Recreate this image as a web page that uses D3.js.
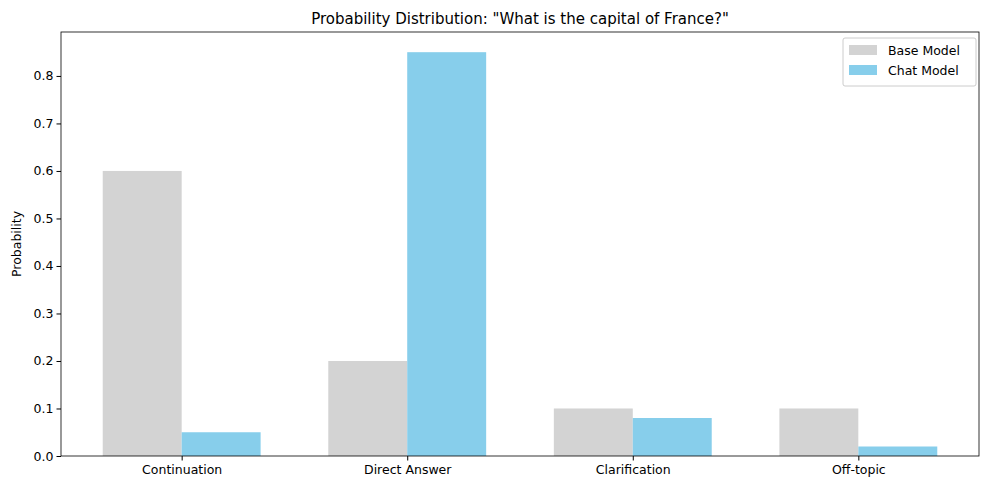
<!DOCTYPE html>
<html><head><meta charset="utf-8">
<script src="https://cdn.jsdelivr.net/npm/d3@7"></script>
<style>body{margin:0;background:#fff}text{font-family:"DejaVu Sans",sans-serif}</style>
</head><body><svg id="c" width="989" height="490"></svg>
<script>
const categories = ['Continuation', 'Direct Answer', 'Clarification', 'Off-topic']
const baseValues = [0.6, 0.2, 0.1, 0.1]
const chatValues = [0.05, 0.85, 0.08, 0.02]
const yTicks = [0, 0.1, 0.2, 0.3, 0.4, 0.5, 0.6, 0.7, 0.8]
const seriesNames = ['Base Model', 'Chat Model']
const colors = ['#d3d3d3', '#87ceeb']

const margin = {top: 32, right: 10, bottom: 34, left: 61}
const width = 989, height = 490
const barW = 0.35

const svg = d3.select('#c')
const x = d3.scaleLinear().domain([-0.535, 3.535]).range([margin.left, width - margin.right])
const y = d3.scaleLinear().domain([0, 0.8925]).range([height - margin.bottom, margin.top])

const series = [baseValues, chatValues]
series.forEach((vals, s) => {
  svg.append('g').selectAll('rect').data(vals).join('rect')
    .attr('x', (d, i) => x(i - barW + s * barW))
    .attr('width', x(barW) - x(0))
    .attr('y', d => y(d))
    .attr('height', d => y(0) - y(d))
    .attr('fill', colors[s])
})

svg.append('g')
  .attr('transform', `translate(0,${height - margin.bottom})`)
  .call(d3.axisBottom(x).tickValues([0, 1, 2, 3]).tickFormat(i => categories[i]).tickSizeOuter(0).tickSize(4.5))
  .call(g => g.select('.domain').remove())
  .selectAll('text').attr('font-size', 12.5).attr('fill', '#000').attr('dy', '0.85em')

svg.append('g')
  .attr('transform', `translate(${margin.left},0)`)
  .call(d3.axisLeft(y).tickValues(yTicks).tickFormat(d3.format('.1f')).tickSizeOuter(0).tickSize(4.5))
  .call(g => g.select('.domain').remove())
  .selectAll('text').attr('font-size', 12.5).attr('fill', '#000')

svg.append('rect')
  .attr('x', margin.left).attr('y', margin.top)
  .attr('width', width - margin.left - margin.right)
  .attr('height', height - margin.top - margin.bottom)
  .attr('fill', 'none').attr('stroke', '#000').attr('stroke-width', 0.8)

svg.append('text').attr('x', (margin.left + width - margin.right) / 2).attr('y', 24)
  .attr('text-anchor', 'middle').attr('font-size', 15)
  .text('Probability Distribution: "What is the capital of France?"')

svg.append('text').attr('transform', `translate(21,${(margin.top + height - margin.bottom) / 2}) rotate(-90)`)
  .attr('text-anchor', 'middle').attr('font-size', 12.5).text('Probability')

const lg = svg.append('g').attr('transform', 'translate(843,38)')
lg.append('rect').attr('width', 133).attr('height', 48).attr('rx', 2)
  .attr('fill', '#fff').attr('fill-opacity', 0.8).attr('stroke', '#ccc')
seriesNames.forEach((n, i) => {
  lg.append('rect').attr('x', 6).attr('y', 7 + i * 20).attr('width', 28).attr('height', 10).attr('fill', colors[i])
  lg.append('text').attr('x', 45).attr('y', 17 + i * 20).attr('font-size', 12.5).text(n)
})
</script></body></html>
